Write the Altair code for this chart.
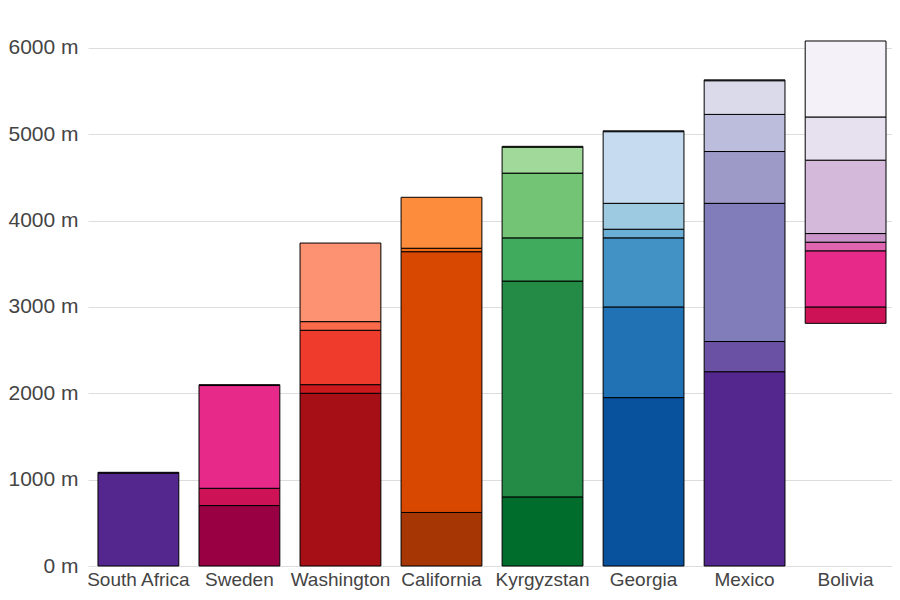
import altair as alt
import pandas as pd

regions = ["South Africa", "Sweden", "Washington", "California",
           "Kyrgyzstan", "Georgia", "Mexico", "Bolivia"]

# elevation band boundaries (m) per region, bottom to top
south_africa = [0, 1075, 1085]
sweden = [0, 700, 900, 2090, 2100]
washington = [0, 2000, 2100, 2730, 2830, 3740]
california = [0, 620, 3640, 3680, 4270]
kyrgyzstan = [0, 800, 3300, 3800, 4550, 4850, 4860]
georgia = [0, 1950, 3000, 3800, 3900, 4200, 5030, 5040]
mexico = [0, 2250, 2600, 4200, 4800, 5230, 5620, 5630]
bolivia = [2810, 3000, 3650, 3750, 3850, 4700, 5200, 6080]

# fill colour of each band
south_africa_colors = ["#54278f", "#54278f"]
sweden_colors = ["#980043", "#ce1256", "#e7298a", "#e7298a"]
washington_colors = ["#a50f15", "#cb181d", "#ef3b2c", "#fb6a4a", "#fc9272"]
california_colors = ["#a63603", "#d94801", "#f16913", "#fd8d3c"]
kyrgyzstan_colors = ["#006d2c", "#238b45", "#41ab5d", "#74c476", "#a1d99b", "#a1d99b"]
georgia_colors = ["#08519c", "#2171b5", "#4292c6", "#6baed6", "#9ecae1", "#c6dbef", "#c6dbef"]
mexico_colors = ["#54278f", "#6a51a3", "#807dba", "#9e9ac8", "#bcbddc", "#dadaeb", "#dadaeb"]
bolivia_colors = ["#ce1256", "#e7298a", "#df65b0", "#c994c7", "#d4b9da", "#e7e1ef", "#f4f2f8"]

bounds = [south_africa, sweden, washington, california,
          kyrgyzstan, georgia, mexico, bolivia]
colors = [south_africa_colors, sweden_colors, washington_colors, california_colors,
          kyrgyzstan_colors, georgia_colors, mexico_colors, bolivia_colors]

rows = []
for region, b, cs in zip(regions, bounds, colors):
    for i in range(len(b) - 1):
        rows.append({"region": region, "low": b[i], "high": b[i + 1],
                     "color": cs[i], "order": i})
df = pd.DataFrame(rows)

font = "Liberation Sans"

chart = alt.Chart(df).mark_bar(stroke="black", strokeWidth=1).encode(
    x=alt.X("region:N", sort=regions, title=None,
            scale=alt.Scale(paddingInner=0.2, paddingOuter=0.079, align=0.625),
            axis=alt.Axis(labelAngle=0, labelFontSize=19, labelFont=font,
                          labelColor="#444444", domain=False, ticks=False,
                          labelPadding=4)),
    y=alt.Y("low:Q", title=None,
            scale=alt.Scale(domain=[0, 6300], nice=False),
            axis=alt.Axis(values=[0, 1000, 2000, 3000, 4000, 5000, 6000],
                          labelExpr="datum.value + ' m'",
                          labelFontSize=21, labelFont=font, labelColor="#444444",
                          domain=False, ticks=False, labelPadding=10,
                          gridColor="#dddddd")),
    y2="high:Q",
    color=alt.Color("color:N", scale=None, legend=None),
    order="order:Q",
).properties(
    width=804, height=544,
    autosize=alt.AutoSizeParams(type="none"),
    padding={"left": 80, "top": 14, "right": 0, "bottom": 26},
).configure_view(stroke=None)

chart.save("out.html", embed_options={"renderer": "svg", "actions": False})
